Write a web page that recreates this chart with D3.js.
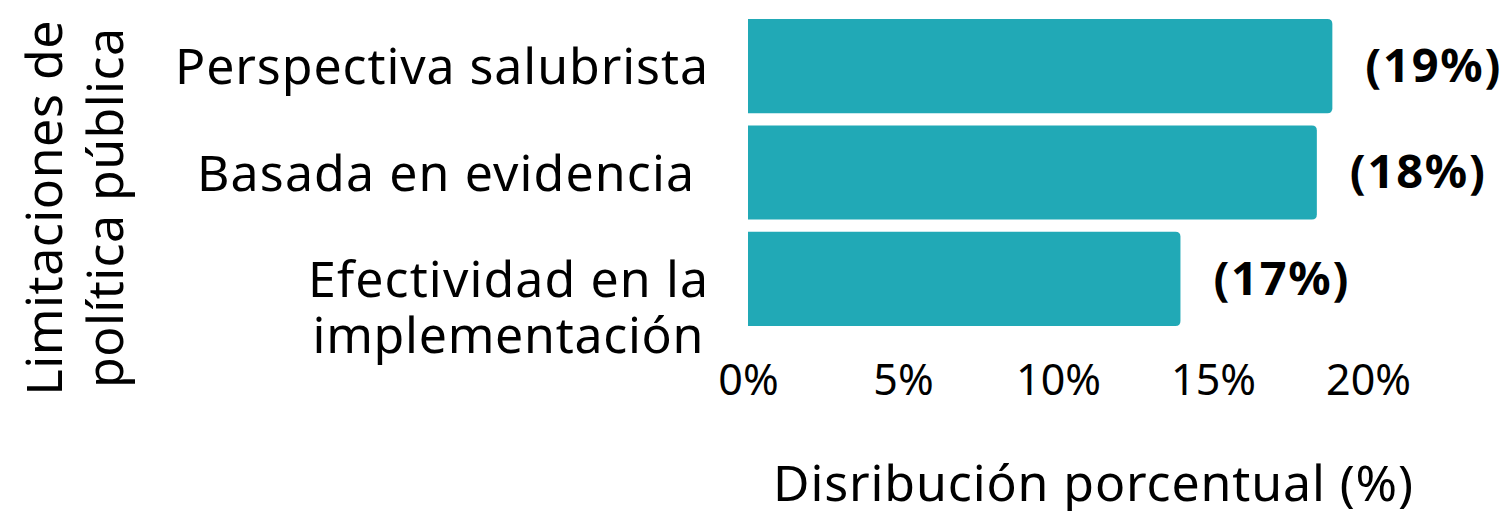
<!DOCTYPE html>
<html><head><meta charset="utf-8">
<script src="https://cdn.jsdelivr.net/npm/d3@7"></script>
<style>body{margin:0;background:#fff}svg{display:block}text{font-family:"Noto Sans",sans-serif;}</style>
</head><body>
<svg id="c" width="1510" height="511"></svg>
<script>
const categories = ["Perspectiva salubrista", "Basada en evidencia ", "Efectividad en la\nimplementación"];
const values = [18.85, 18.35, 13.95];
const valueLabels = ["(19%)", "(18%)", "(17%)"];
const ticks = [0, 5, 10, 15, 20];
const tickLabels = ["0%", "5%", "10%", "15%", "20%"];
const yTitle = ["Limitaciones de", "política pública"];
const xTitle = "Disribución porcentual (%)";

const svg = d3.select("#c");
const x = d3.scaleLinear().domain([0, 20]).range([748, 1368]);
const y = d3.scaleBand().domain(categories).range([13, 332]).paddingInner(0.115).paddingOuter(0.0575);
const color = "#21A9B6";
const fs = 50;

// stretch a text's spacing so it matches a measured width (Montserrat is wider than the fallback)
function fit(sel, w) {
  sel.attr("textLength", w).attr("lengthAdjust", "spacing");
}

function barPath(x0, x1, y0, h, r) {
  return `M${x0},${y0}H${x1 - r}Q${x1},${y0} ${x1},${y0 + r}V${y0 + h - r}Q${x1},${y0 + h} ${x1 - r},${y0 + h}H${x0}Z`;
}
svg.selectAll("path.bar").data(categories).join("path")
  .attr("class", "bar")
  .attr("fill", color)
  .attr("d", (d, i) => barPath(x(0), x(values[i]), y(d), y.bandwidth(), 5));

svg.selectAll("text.val").data(categories).join("text")
  .attr("class", "val")
  .attr("x", (d, i) => x(values[i]) + 33)
  .attr("y", d => y(d) + y.bandwidth() / 2)
  .attr("dy", "0.34em")
  .attr("font-size", 47)
  .attr("font-weight", 700)
  .attr("fill", "#000")
  .text((d, i) => valueLabels[i])
  .call(fit, 135);

// category labels
const catWidths = [[533], [497], [400, 391]];
categories.forEach((c, i) => {
  const lines = c.trim().split("\n");
  const cy = y(c) + y.bandwidth() / 2;
  if (lines.length === 1) {
    const right = c.endsWith(" ") ? 694 : 708;
    svg.append("text").attr("x", right).attr("y", cy).attr("dy", "0.36em")
      .attr("text-anchor", "end").attr("font-size", fs).attr("fill", "#000")
      .text(lines[0]).call(fit, catWidths[i][0]);
  } else {
    lines.forEach((l, k) => {
      svg.append("text").attr("text-anchor", "middle").attr("font-size", fs).attr("fill", "#000")
        .attr("x", 508).attr("y", cy + k * 56).attr("dy", "0.36em")
        .text(l).call(fit, catWidths[i][k]);
    });
  }
});

// x axis (no line)
const ax = d3.axisBottom(x).tickValues(ticks).tickFormat((d, i) => tickLabels[i]).tickSize(0).tickPadding(0);
const g = svg.append("g").attr("transform", "translate(0,364)").call(ax);
g.select(".domain").remove();
g.selectAll("text").attr("font-size", 43).attr("fill", "#000").attr("font-family", '"Noto Sans",sans-serif')
  .attr("dy", "0.71em");

// x title
svg.append("text").attr("x", 1093).attr("y", 501).attr("text-anchor", "middle")
  .attr("font-size", fs).attr("fill", "#000").text(xTitle).call(fit, 640);

// y title
const ytW = [375, 360];
yTitle.forEach((l, k) => {
  svg.append("text").attr("transform", "translate(0,208) rotate(-90)")
    .attr("text-anchor", "middle").attr("font-size", fs).attr("fill", "#000")
    .attr("x", 0).attr("y", 62 + k * 61).text(l).call(fit, ytW[k]);
});
</script>
</body></html>
